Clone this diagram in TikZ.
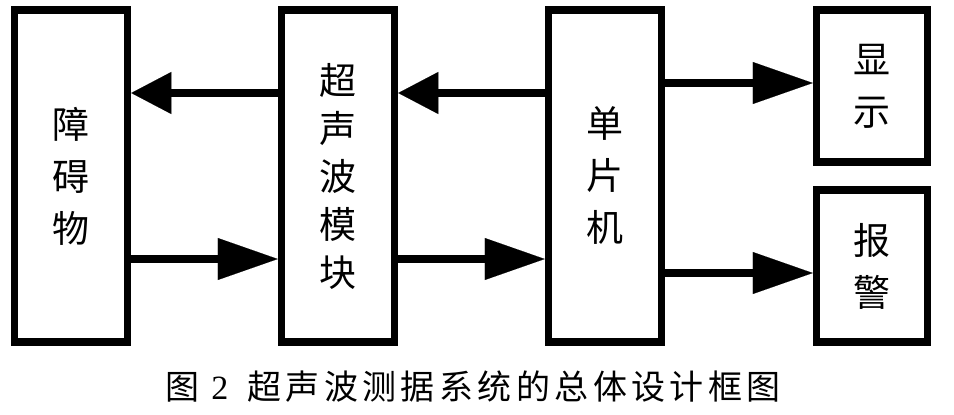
\documentclass[tikz,border=0pt]{standalone}
\usepackage{fontspec}
\newfontfamily\cjk{Noto Sans CJK SC}
\newfontfamily\cjkcap{Noto Sans CJK SC}[LetterSpace=13]
\newfontfamily\latin{Liberation Serif}
\usetikzlibrary{arrows.meta,positioning}

\begin{document}
\begin{tikzpicture}[x=1pt,y=-1pt,-,node distance=267pt,
                    main node/.style={draw,line width=7.5pt,align=center,font=\cjk\fontsize{37}{52}\selectfont},
                    tall node/.style={main node,minimum width=113pt,minimum height=332pt},
                    short node/.style={main node,minimum width=111pt,minimum height=152pt},
                    go left/.style={line width=8pt,-{Triangle[length=40pt,width=42pt,line width=0.1pt]}},
                    go right/.style={line width=8pt,-{Triangle[length=60pt,width=42pt,line width=0.1pt]}}]

  \useasboundingbox (0,0) rectangle (954,415);

  \node[tall node] (obstacle) at (71,176) {障\\碍\\物};
  \node[tall node,font=\cjk\fontsize{37}{48}\selectfont] (sensor) [right of=obstacle] {超\\声\\波\\模\\块};
  \node[tall node] (mcu) [right of=sensor] {单\\片\\机};
  \node[short node] (display) [right of=mcu,yshift=90pt] {显\\示};
  \node[short node] (alarm) [right of=mcu,yshift=-90pt] {报\\警};

  \path
  ([yshift=83pt]sensor.west) edge[go left] ([yshift=83pt]obstacle.east)
  ([yshift=-83pt]obstacle.east) edge[go right] ([yshift=-83pt]sensor.west)
  ([yshift=83pt]mcu.west) edge[go left] ([yshift=83pt]sensor.east)
  ([yshift=-83pt]sensor.east) edge[go right] ([yshift=-83pt]mcu.west)
  ([yshift=93pt]mcu.east) edge[go right] ([yshift=3pt]display.west)
  ([yshift=-97pt]mcu.east) edge[go right] ([yshift=-7pt]alarm.west);

  \node[font=\cjkcap\fontsize{34}{40}\selectfont] (caption) at (473,387)
       {图\hspace{12pt}{\latin 2}\hspace{19pt}超声波测据系统的总体设计框图};

\end{tikzpicture}
\end{document}
